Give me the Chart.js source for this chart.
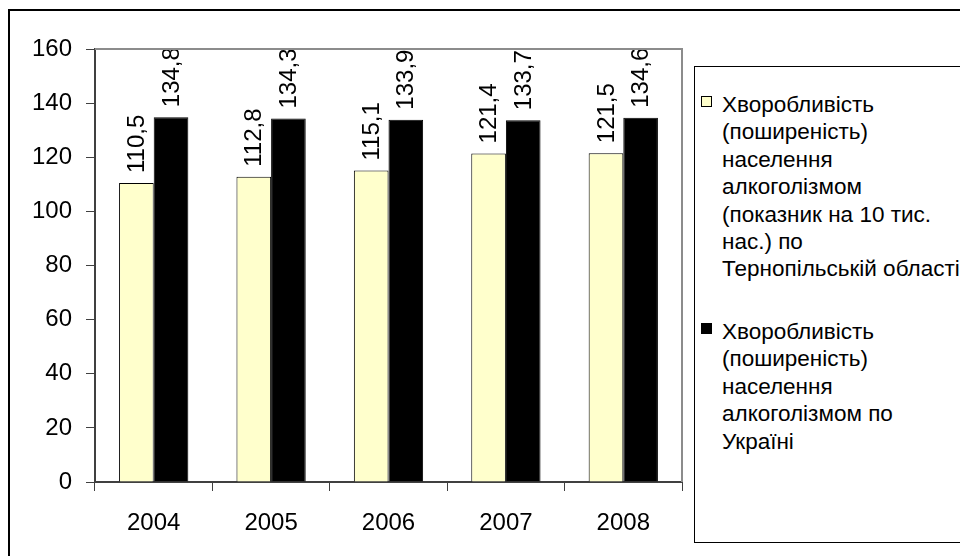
<!DOCTYPE html>
<html>
<head>
<meta charset="utf-8">
<script src="https://cdn.jsdelivr.net/npm/chart.js@4"></script>
<style>
  html, body { margin: 0; padding: 0; background: #fff; overflow: hidden; }
  #wrap { position: relative; width: 960px; height: 556px; overflow: hidden; font-family: "Liberation Sans", Arial, sans-serif; }
  #frame { position: absolute; left: 8px; top: 9px; width: 1100px; height: 700px; border-top: 2px solid #000; border-left: 2px solid #000; }
  canvas { position: absolute; left: 0; top: 0; }
  #legend { position: absolute; left: 694px; top: 66px; width: 500px; height: 475px; border: 1px solid #000; background: #fff; }
  .entry { position: absolute; left: 27px; font-size: 22.5px; line-height: 27.4px; color: #000; white-space: nowrap; }
  .mark { position: absolute; width: 9px; height: 9px; border: 1px solid #000; }
</style>
</head>
<body>
<div id="wrap">
  <div id="frame"></div>
  <canvas id="c" width="960" height="556"></canvas>
  <div id="legend"></div>
</div>
<script>
const years = ['2004', '2005', '2006', '2007', '2008'];
const ternopil = [110.5, 112.8, 115.1, 121.4, 121.5];
const ukraine = [134.8, 134.3, 133.9, 133.7, 134.6];
const seriesNames = [
  'Хворобливість (поширеність) населення алкоголізмом (показник на 10 тис. нас.) по Тернопільській області',
  'Хворобливість (поширеність) населення алкоголізмом по Україні'
];
const legendLines = [
  ['Хворобливість', '(поширеність)', 'населення', 'алкоголізмом', '(показник на 10 тис.', 'нас.) по', 'Тернопільській області'],
  ['Хворобливість', '(поширеність)', 'населення', 'алкоголізмом по', 'Україні']
];
const colors = ['#FFFFCC', '#000000'];

// HTML legend
const legend = document.getElementById('legend');
const entryTops = [24, 251];
legendLines.forEach((lines, i) => {
  const e = document.createElement('div');
  e.className = 'entry';
  e.style.top = entryTops[i] + 'px';
  e.innerHTML = lines.join('<br>');
  legend.appendChild(e);
  const m = document.createElement('div');
  m.className = 'mark';
  m.style.left = '6px';
  m.style.top = (entryTops[i] + 5) + 'px';
  m.style.background = colors[i];
  legend.appendChild(m);
});

const FONT = '"Liberation Sans", Arial, sans-serif';

const frameLines = {
  id: 'frameLines',
  afterDraw(chart) {
    const a = chart.chartArea, ctx = chart.ctx;
    ctx.save();
    ctx.strokeStyle = '#8c8c8c';
    ctx.lineWidth = 2;
    ctx.beginPath();
    ctx.moveTo(a.left, a.top);
    ctx.lineTo(a.right, a.top);
    ctx.lineTo(a.right, a.bottom);
    ctx.stroke();
    ctx.restore();
  }
};

const valueLabels = {
  id: 'valueLabels',
  afterDatasetsDraw(chart) {
    const ctx = chart.ctx;
    ctx.save();
    ctx.fillStyle = '#000';
    ctx.font = '24px ' + FONT;
    ctx.textAlign = 'left';
    ctx.textBaseline = 'middle';
    chart.data.datasets.forEach((ds, di) => {
      const meta = chart.getDatasetMeta(di);
      meta.data.forEach((bar, i) => {
        const txt = ds.data[i].toFixed(1).replace('.', ',');
        ctx.save();
        ctx.translate(bar.x + 1, bar.y - 10);
        ctx.rotate(-Math.PI / 2);
        ctx.fillText(txt, 0, 0);
        ctx.restore();
      });
    });
    ctx.restore();
  }
};

new Chart(document.getElementById('c'), {
  type: 'bar',
  data: {
    labels: years,
    datasets: [
      { label: seriesNames[0], data: ternopil, backgroundColor: colors[0], borderColor: '#000', borderWidth: 1,
        categoryPercentage: 0.59, barPercentage: 1 },
      { label: seriesNames[1], data: ukraine, backgroundColor: colors[1], borderColor: '#000', borderWidth: 1,
        categoryPercentage: 0.59, barPercentage: 1 }
    ]
  },
  options: {
    responsive: false,
    animation: false,
    devicePixelRatio: 1,
    layout: { padding: { top: 49, right: 278, left: 0, bottom: 0 } },
    plugins: { legend: { display: false }, tooltip: { enabled: false } },
    scales: {
      x: {
        afterFit(s) { s.height = 74; },
        grid: { display: true, drawOnChartArea: false, drawTicks: true, tickLength: 9, color: '#404040', offset: true },
        border: { display: true, color: '#404040', width: 2 },
        ticks: { color: '#000', font: { family: FONT, size: 24 }, padding: 18, maxRotation: 0 }
      },
      y: {
        min: 0, max: 160,
        afterFit(s) { s.width = 95; },
        grid: { display: true, drawOnChartArea: false, drawTicks: true, tickLength: 9, color: '#404040' },
        border: { display: true, color: '#404040', width: 2 },
        ticks: { stepSize: 20, color: '#000', font: { family: FONT, size: 24 }, padding: 14 }
      }
    }
  },
  plugins: [frameLines, valueLabels]
});
</script>
</body>
</html>
